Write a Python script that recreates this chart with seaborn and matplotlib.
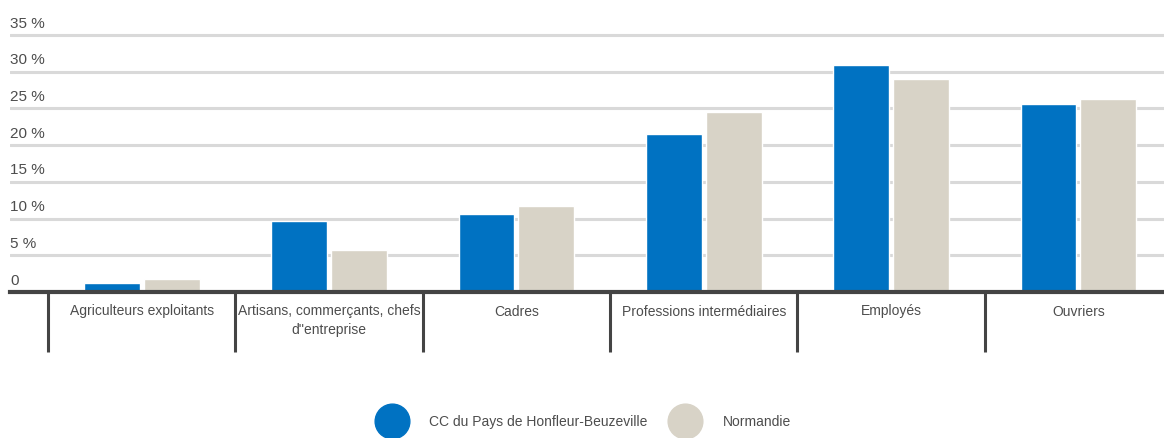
import matplotlib
matplotlib.use("Agg")
import matplotlib.pyplot as plt
import seaborn as sns
import pandas as pd
from matplotlib.lines import Line2D
from matplotlib import transforms

# donnees (% des actifs)
categories = ["Agriculteurs exploitants", "Artisans, commerçants, chefs\nd''entreprise", "Cadres",
              "Professions intermédiaires", "Employés", "Ouvriers"]
zones = ["CC du Pays de Honfleur-Beuzeville", "Normandie"]
vals_cc = [1.2, 9.7, 10.6, 21.5, 30.9, 25.6]
vals_norm = [1.8, 5.7, 11.7, 24.5, 29.0, 26.3]
couleurs = ["#0072c2", "#d8d3c7"]
yticks = [0, 5, 10, 15, 20, 25, 30, 35]

sns.set_style("white")
plt.rcParams["font.family"] = ["DejaVu Sans Condensed", "Liberation Sans Narrow", "Liberation Sans", "DejaVu Sans"]
txt = "#4d4d4d"
fs = 10

df = pd.DataFrame({
    "cat": categories * 2,
    "zone": [zones[0]] * len(categories) + [zones[1]] * len(categories),
    "val": vals_cc + vals_norm,
})

fig = plt.figure(figsize=(11.64, 4.38), dpi=100)
ax = fig.add_axes([10 / 1164, 146 / 438, 1154 / 1164, 265 / 438])

sns.barplot(data=df, x="cat", y="val", hue="zone", palette=couleurs,
            width=0.64, gap=0.07, saturation=1, ax=ax, legend=False, zorder=3)

ax.set_xlim(-0.703, 5.457)
ax.set_ylim(0, 36.1)
for s in ["top", "right", "left"]:
    ax.spines[s].set_visible(False)
ax.spines["bottom"].set_color("#444444")
ax.spines["bottom"].set_linewidth(3)
ax.spines["bottom"].set_zorder(5)

# grille horizontale
for v in yticks[1:]:
    ax.axhline(v, color="#d9d9d9", lw=2.2, zorder=1)

ax.set_yticks([])
trans = transforms.blended_transform_factory(ax.transAxes, ax.transData)
for v in yticks:
    lab = "0" if v == 0 else f"{v} %"
    ax.text(0.0, v + 0.6, lab, transform=trans, ha="left", va="bottom",
            fontsize=11, color=txt)

# etiquettes et separateurs
ax.set_xticks(range(len(categories)))
ax.set_xticklabels(categories, fontsize=fs, color=txt, linespacing=1.45, va="top")
ax.tick_params(axis="x", which="major", bottom=False, length=0, pad=9)
ax.set_xticks([i - 0.5 for i in range(len(categories))], minor=True)
ax.tick_params(axis="x", which="minor", bottom=True, length=43, width=2.2,
               color="#444444", direction="out")
ax.set_xlabel("")
ax.set_ylabel("")

handles = [Line2D([], [], marker="o", ls="", markersize=25, markerfacecolor=c,
                  markeredgecolor=c) for c in couleurs]
fig.legend(handles, zones, loc="center", bbox_to_anchor=(0.502, 0.037), ncol=2,
           frameon=False, fontsize=fs, labelcolor=txt, handletextpad=1.7,
           columnspacing=1.7)

fig.savefig("out.png", dpi=100)
